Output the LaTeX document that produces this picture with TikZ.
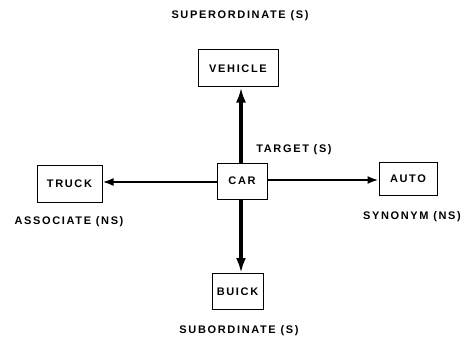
\documentclass[tikz,border=0pt]{standalone}
\usepackage{fontspec}
\setmainfont{Liberation Sans}[LetterSpace=15]
\usetikzlibrary{arrows.meta}
\begin{document}
\begin{tikzpicture}[x=1pt,y=-1pt,
  box/.style={draw,line width=1pt,inner sep=0pt,font=\bfseries\fontsize{11}{13}\selectfont},
  lbl/.style={inner sep=0pt,font=\bfseries\fontsize{11}{13}\selectfont},
  conn/.style={line width=2pt,-{Latex[length=11pt,width=8pt]}},
  vconn/.style={line width=3.2pt,-{Latex[length=15pt,width=10pt]}}]
\useasboundingbox (0,0) rectangle (470,342);
\node[box,minimum width=80pt,minimum height=37pt] (veh) at (238,68.5) {VEHICLE};
\node[box,minimum width=65pt,minimum height=37pt] (truck) at (69.5,183.5) {TRUCK};
\node[box,minimum width=50pt,minimum height=36pt] (car) at (242,181) {CAR};
\node[box,minimum width=58pt,minimum height=33pt] (auto) at (408,178.5) {AUTO};
\node[box,minimum width=51pt,minimum height=36pt] (buick) at (237.5,291.5) {BUICK};
\node[lbl] (sup) at (240,16) {SUPERORDINATE (S)};
\node[lbl] (tgt) at (294,150) {TARGET (S)};
\node[lbl] (ass) at (69,222) {ASSOCIATE (NS)};
\node[lbl] (syn) at (412,217) {SYNONYM (NS)};
\node[lbl] (sub) at (239,331) {SUBORDINATE (S)};
\draw[vconn] (car.north -| 241,0) -- (veh.south -| 241,0);
\draw[vconn] (car.south -| 241,0) -- (buick.north -| 241,0);
\draw[conn] (car.west |- 0,182) -- (truck.east |- 0,182);
\draw[conn] (car.east |- 0,180) -- (auto.west |- 0,180);
\end{tikzpicture}
\end{document}
